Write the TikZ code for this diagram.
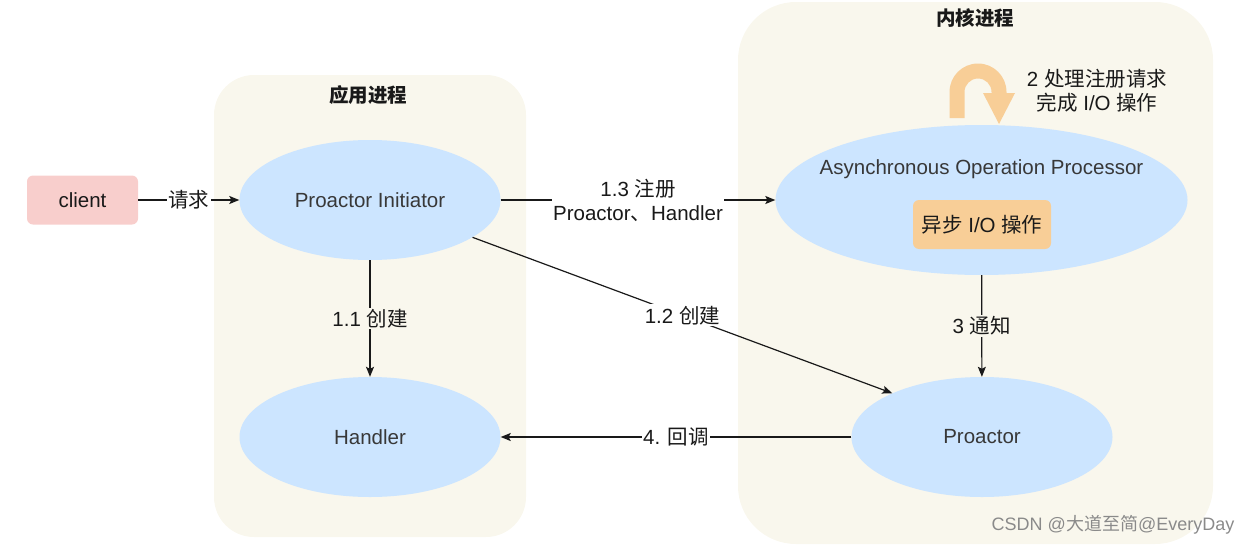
\documentclass[tikz,border=0pt]{standalone}
\usepackage{fontspec}
\setmainfont{Liberation Sans}
\newfontfamily\zh{Noto Sans CJK SC}
\usetikzlibrary{arrows.meta,shapes.geometric}
\definecolor{panel}{HTML}{F9F7ED}
\definecolor{ell}{HTML}{CCE5FF}
\definecolor{pinkc}{HTML}{F8CECC}
\definecolor{orng}{HTML}{F8CE97}
\definecolor{txt}{HTML}{383838}
\definecolor{wm}{HTML}{8A8A8A}
\tikzset{
  ellnode/.style={ellipse, fill=ell, draw=none, inner sep=0pt, text=txt},
  conn/.style={draw=black!90, line width=1.2pt, -{Stealth[length=10pt,width=8pt,inset=2pt]}},
  lbl/.style={fill=white, inner sep=1.5pt, text=black!90},
  ttl/.style={font=\fontsize{19.5}{22}\selectfont\zh\bfseries, text=black!90}
}
\begin{document}
\begin{tikzpicture}[x=1pt,y=-1pt,font=\fontsize{20.5}{24}\selectfont]
\useasboundingbox (0,0) rectangle (1252,546);
% panels
\fill[panel, rounded corners=40pt] (214,75) rectangle (526,537);
\fill[panel, rounded corners=58pt] (738,2) rectangle (1213,544);
\node[ttl] (apptitle) at (368,95) {应用进程};
\node[ttl] (kertitle) at (975,18) {内核进程};
% nodes
\node[fill=pinkc, rounded corners=6pt, minimum width=111pt, minimum height=49pt, inner sep=0pt, text=black!90] (client) at (82.5,200) {client};
\node[ellnode, minimum width=261pt, minimum height=120pt] (init) at (370,200) {Proactor Initiator};
\node[ellnode, minimum width=261pt, minimum height=120pt] (handler) at (370,437) {Handler};
\node[ellnode, minimum width=412pt, minimum height=150pt] (aop) at (981.5,200) {};
\node[text=txt] (aoptext) at (981.5,169) {Asynchronous Operation Processor};
\node[fill=orng, rounded corners=6pt, minimum width=138pt, minimum height=49pt, inner sep=0pt, text=black!90] (aio) at (982,224.5) {{\zh 异步} I/O {\zh 操作}};
\node[ellnode, minimum width=261pt, minimum height=120pt] (pro) at (982,437) {Proactor};
% U-turn arrow
\fill[orng] (949.5,118) -- (949.5,92) arc[start angle=180,end angle=360,radius=28.5] -- (1006.5,93) -- (1015,93) -- (999,124) -- (983,93) -- (991.5,93) -- (991.5,92) arc[start angle=360,end angle=180,radius=13.5] -- (964.5,118) -- cycle;
\node[align=center, text=black!90] (t2) at (1097,91) {2 {\zh 处理注册请求}\\{\zh 完成} I/O {\zh 操作}};
% connectors
\draw[conn] (client) -- node[lbl]{\zh 请求} (init);
\draw[conn] (init) -- node[lbl, align=center]{1.3 {\zh 注册}\\Proactor{\zh 、}Handler} (aop);
\draw[conn] (init) -- node[lbl, fill=panel]{1.1 {\zh 创建}} (handler);
\draw[conn] (init.-20.7) -- node[lbl]{1.2 {\zh 创建}} (pro.154);
\draw[conn] (aop) -- node[lbl, fill=panel]{3 {\zh 通知}} (pro);
\draw[conn] (pro) -- node[lbl]{4. {\zh 回调}} (handler);
% watermark
\node[font=\fontsize{18}{18}\selectfont, text=wm] (wmk) at (1113,525) {CSDN @{\zh 大道至简}@EveryDay};
\end{tikzpicture}
\end{document}
